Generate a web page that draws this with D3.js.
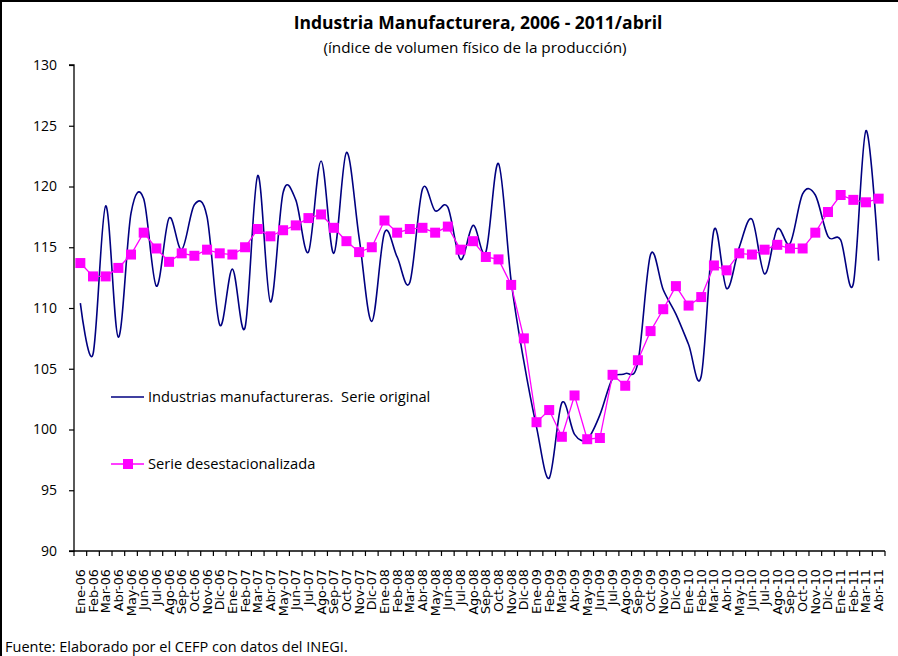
<!DOCTYPE html>
<html><head><meta charset="utf-8">
<script src="https://cdn.jsdelivr.net/npm/d3@7"></script>
<style>body{margin:0;background:#fff}svg{display:block;font-family:"Open Sans",sans-serif}</style>
</head><body>
<svg id="c" width="898" height="656"></svg>
<script>
const months = ["Ene-06","Feb-06","Mar-06","Abr-06","May-06","Jun-06","Jul-06","Ago-06","Sep-06","Oct-06","Nov-06","Dic-06",
"Ene-07","Feb-07","Mar-07","Abr-07","May-07","Jun-07","Jul-07","Ago-07","Sep-07","Oct-07","Nov-07","Dic-07",
"Ene-08","Feb-08","Mar-08","Abr-08","May-08","Jun-08","Jul-08","Ago-08","Sep-08","Oct-08","Nov-08","Dic-08",
"Ene-09","Feb-09","Mar-09","Abr-09","May-09","Jun-09","Jul-09","Ago-09","Sep-09","Oct-09","Nov-09","Dic-09",
"Ene-10","Feb-10","Mar-10","Abr-10","May-10","Jun-10","Jul-10","Ago-10","Sep-10","Oct-10","Nov-10","Dic-10",
"Ene-11","Feb-11","Mar-11","Abr-11"];
const original = [110.4,106.2,118.4,107.6,117.8,119.0,111.8,117.4,114.8,118.5,117.5,108.6,
113.2,108.4,120.9,110.5,119.5,118.9,114.6,122.1,114.5,122.8,115.8,108.9,
116.2,114.2,112.1,119.8,118.0,118.3,114.0,116.8,114.6,121.9,112.2,105.6,
100.2,96.0,102.2,99.6,99.2,101.2,104.2,104.6,105.5,114.4,111.5,109.5,
107.0,104.4,116.4,111.6,115.0,117.3,112.8,116.5,115.3,119.4,119.3,115.9,
115.6,112.0,124.6,113.9];
const desest = [113.7,112.6,112.6,113.3,114.4,116.2,114.9,113.8,114.5,114.3,114.8,114.5,
114.4,115.0,116.5,115.9,116.4,116.8,117.4,117.7,116.6,115.5,114.6,115.0,
117.2,116.2,116.5,116.6,116.2,116.7,114.8,115.5,114.2,114.0,111.9,107.5,
100.6,101.6,99.4,102.8,99.2,99.3,104.5,103.6,105.7,108.1,109.9,111.8,
110.2,110.9,113.5,113.1,114.5,114.4,114.8,115.2,114.9,114.9,116.2,117.9,
119.3,118.9,118.7,119.0];
const yTicks = [90,95,100,105,110,115,120,125,130];
const title = "Industria Manufacturera, 2006 - 2011/abril";
const subtitle = "(índice de volumen físico de la producción)";
const source = "Fuente: Elaborado por el CEFP con datos del INEGI.";
const legendLabels = ["Industrias manufactureras.\u00a0 Serie original","Serie desestacionalizada"];

const svg = d3.select("#c");
const L = 74, R = 885, T = 65, B = 551;
const x = d3.scaleBand().domain(months).range([L, R]).padding(0);
const y = d3.scaleLinear().domain([90,130]).range([B, T]);
const cx = m => x(m) + x.bandwidth()/2;

svg.append("rect").attr("x",1).attr("y",1).attr("width",1200).attr("height",1200)
  .attr("fill","none").attr("stroke","#000").attr("stroke-width",2);

svg.append("text").attr("x",478).attr("y",29).attr("text-anchor","middle")
  .attr("font-weight","bold").attr("font-size",17.5).text(title);
svg.append("text").attr("x",475).attr("y",53).attr("text-anchor","middle")
  .attr("font-size",15.3).text(subtitle);

// y axis
const ya = svg.append("g").attr("transform",`translate(${L},0)`)
  .call(d3.axisLeft(y).tickValues(yTicks).tickSize(5).tickPadding(12));
ya.select(".domain").attr("stroke","#000").attr("stroke-width",1.3).attr("d",`M-5,${T}H0V${B}H-5`);
ya.selectAll(".tick line").attr("stroke","#000").attr("stroke-width",1.2);
ya.selectAll("text").attr("font-size",14).attr("fill","#000").attr("font-family","'Open Sans',sans-serif");

// x axis
const xg = svg.append("g");
xg.append("line").attr("x1",L).attr("x2",R).attr("y1",B).attr("y2",B).attr("stroke","#000").attr("stroke-width",1.3);
xg.selectAll("line.t").data(months.concat(["end"])).join("line").attr("class","t")
  .attr("x1",(d,i)=> i<months.length ? x(d) : R).attr("x2",(d,i)=> i<months.length ? x(d) : R)
  .attr("y1",B).attr("y2",B+5).attr("stroke","#000").attr("stroke-width",1.2);
xg.selectAll("text").data(months).join("text")
  .attr("transform",d=>`translate(${cx(d)+4.5},${B+18}) rotate(-90)`)
  .attr("text-anchor","end").attr("font-size",12.8).attr("font-family","'DejaVu Sans',sans-serif").text(d=>d);

// lines
const lineO = d3.line().x((d,i)=>cx(months[i])).y(d=>y(d)).curve(d3.curveCatmullRom.alpha(0));
svg.append("path").datum(original).attr("d",lineO).attr("fill","none")
  .attr("stroke","#000080").attr("stroke-width",1.6);
const lineD = d3.line().x((d,i)=>cx(months[i])).y(d=>y(d));
svg.append("path").datum(desest).attr("d",lineD).attr("fill","none")
  .attr("stroke","#FF00FF").attr("stroke-width",1.3);
svg.selectAll("rect.m").data(desest).join("rect").attr("class","m")
  .attr("x",(d,i)=>cx(months[i])-5).attr("y",d=>y(d)-5).attr("width",10).attr("height",10)
  .attr("fill","#FF00FF");

// legend
svg.append("line").attr("x1",111).attr("x2",144).attr("y1",397).attr("y2",397)
  .attr("stroke","#000080").attr("stroke-width",1.6);
svg.append("text").attr("x",148).attr("y",402).attr("font-size",14.7).text(legendLabels[0]);
svg.append("line").attr("x1",111).attr("x2",144).attr("y1",464).attr("y2",464)
  .attr("stroke","#FF00FF").attr("stroke-width",1.3);
svg.append("rect").attr("x",123).attr("y",459).attr("width",10).attr("height",10).attr("fill","#FF00FF");
svg.append("text").attr("x",148).attr("y",469).attr("font-size",14.7).text(legendLabels[1]);

svg.append("text").attr("x",5).attr("y",652).attr("font-size",14.5).text(source);
</script>
</body></html>
